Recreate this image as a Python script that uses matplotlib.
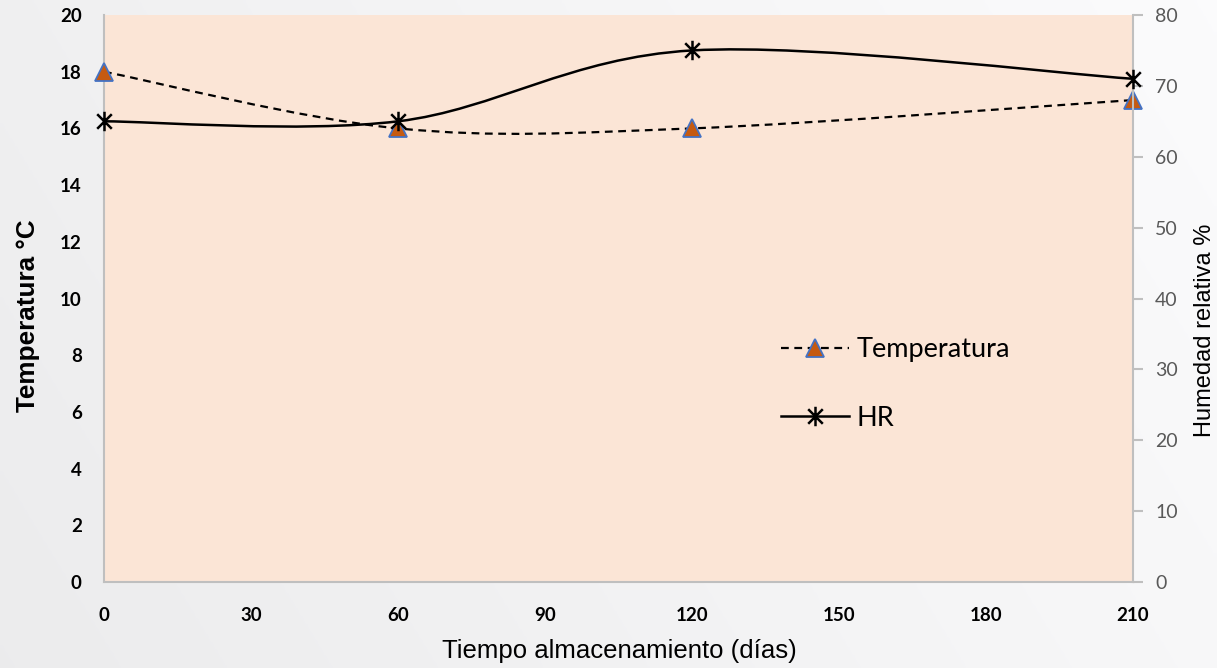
import numpy as np
import matplotlib
matplotlib.use("Agg")
import matplotlib.pyplot as plt
from matplotlib.path import Path
from matplotlib.patches import PathPatch
from matplotlib.lines import Line2D

# ---- data ----
dias = [0, 60, 120, 210]
temperatura = [18, 16, 16, 17]
hr = [65, 65, 75, 71]
x_ticks = [0, 30, 60, 90, 120, 150, 180, 210]
left_ticks = [0, 2, 4, 6, 8, 10, 12, 14, 16, 18, 20]
right_ticks = [0, 10, 20, 30, 40, 50, 60, 70, 80]


def smooth_path(xs, ys):
    """Excel-like smoothed line as cubic Bezier path (Catmull-Rom control points)."""
    P = np.column_stack([xs, ys]).astype(float)
    n = len(P)
    verts = [P[0]]
    codes = [Path.MOVETO]
    for i in range(n - 1):
        p0 = P[i - 1] if i > 0 else P[i]
        p1 = P[i]
        p2 = P[i + 1]
        p3 = P[i + 2] if i + 2 < n else P[i + 1]
        c1 = p1 + (p2 - p0) / 6.0
        c2 = p2 - (p3 - p1) / 6.0
        verts += [c1, c2, p2]
        codes += [Path.CURVE4] * 3
    return Path(verts, codes)


W, H = 1217, 668
fig = plt.figure(figsize=(W / 100, H / 100), dpi=100)

# background gradient
bg = fig.add_axes([0, 0, 1, 1], zorder=-10)
gx = np.linspace(0, 1, 256)
gy = np.linspace(0, 1, 256)
GX, GY = np.meshgrid(gx, gy)
val = 0.925 + 0.06 * np.clip(0.75 * GX + 0.25 * (1 - GY), 0, 1)
bg.imshow(np.dstack([val, val, val + 0.004]).clip(0, 1), aspect="auto",
          extent=[0, 1, 0, 1], origin="upper")
bg.axis("off")

L, R, T, B = 104, 1133, 15, 582
ax = fig.add_axes([L / W, (H - B) / H, (R - L) / W, (B - T) / H])
ax.set_facecolor("#FBE5D6")
ax2 = ax.twinx()

spine_c = "#BFBFBF"
for a in (ax, ax2):
    for s in a.spines.values():
        s.set_color(spine_c)
        s.set_linewidth(1.5)
ax.spines["top"].set_visible(False)
ax.spines["right"].set_visible(False)
ax2.spines["top"].set_visible(False)
ax2.spines["left"].set_visible(False)
ax2.spines["bottom"].set_visible(False)

ax.set_xlim(0, 210)
ax.set_ylim(0, 20)
ax2.set_ylim(0, 80)
ax.set_xticks(x_ticks)
ax.set_yticks(left_ticks)
ax2.set_yticks(right_ticks)

tick_font = "Lato"
ax.tick_params(axis="x", length=0, pad=18)
ax.tick_params(axis="y", length=0, pad=16)
ax2.tick_params(axis="y", length=7, width=1.5, color=spine_c, pad=9,
                labelcolor="#595959", labelsize=14)
for lab in ax.get_xticklabels() + ax.get_yticklabels():
    lab.set_fontfamily(tick_font)
    lab.set_fontweight("bold")
    lab.set_fontsize(13.5)
for lab in ax2.get_yticklabels():
    lab.set_fontfamily(tick_font)

# axis titles placed at their reference positions (pixels -> figure fraction)
fig.text(619 / W, 1 - 658 / H, "Tiempo almacenamiento (días)",
         family="Liberation Sans", fontsize=18.5, ha="center", va="baseline")
fig.text(28 / W, 1 - 316 / H, "Temperatura °C", family="Liberation Sans",
         fontsize=18.8, fontweight="bold", rotation=90, ha="center", va="center")
fig.text(1205 / W, 1 - 330 / H, "Humedad relativa %", family="Liberation Sans",
         fontsize=17, rotation=90, ha="center", va="center")

# temperature smoothed dashed line
ls_dash = (0, (3.5, 2.5))
p1 = PathPatch(smooth_path(dias, temperatura), fill=False, edgecolor="black",
               lw=1.6, linestyle=ls_dash, zorder=3)
ax.add_patch(p1)
ax.plot(dias, temperatura, linestyle="none", marker="^", markersize=12.5,
        markerfacecolor="#C55A11", markeredgecolor="#4472C4",
        markeredgewidth=1.3, zorder=5, clip_on=False)

# HR smoothed solid line
star = Path([(0, -1), (0, 1), (-0.75, -0.75), (0.75, 0.75), (-0.75, 0.75), (0.75, -0.75)],
            [Path.MOVETO, Path.LINETO, Path.MOVETO, Path.LINETO, Path.MOVETO, Path.LINETO])
p2 = PathPatch(smooth_path(dias, hr), fill=False, edgecolor="black",
               lw=1.8, zorder=3)
ax2.add_patch(p2)
ax2.plot(dias, hr, linestyle="none", marker=star, markersize=14,
         markerfacecolor="none", markeredgecolor="black",
         markeredgewidth=1.8, zorder=5, clip_on=False)

h1 = Line2D([], [], color="black", lw=1.6, linestyle=ls_dash, marker="^",
            markersize=12.5, markerfacecolor="#C55A11", markeredgecolor="#4472C4",
            markeredgewidth=1.3)
h2 = Line2D([], [], color="black", lw=1.8, marker=star, markersize=14,
            markerfacecolor="none", markeredgecolor="black", markeredgewidth=1.8)
leg = ax2.legend([h1, h2], ["Temperatura", "HR"], loc="center left",
                 bbox_to_anchor=((781 - L) / (R - L), (B - 384) / (B - T)),
                 frameon=False, borderpad=0, borderaxespad=0,
                 prop={"family": "Lato", "size": 19.5}, handlelength=2.5,
                 handletextpad=0.3, labelspacing=1.6)

fig.savefig("out.png", dpi=100)
